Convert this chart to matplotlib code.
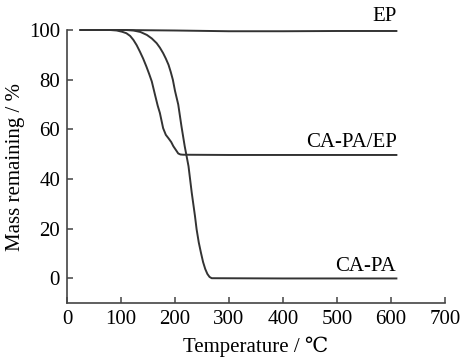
import numpy as np
import matplotlib
matplotlib.use("Agg")
import matplotlib.pyplot as plt

plt.rcParams['font.family'] = ['Liberation Serif', 'DejaVu Serif']
plt.rcParams['font.size'] = 15

# TG curves (temperature in C, mass remaining in %)
ep_t = [25, 100, 200, 300, 400, 500, 610]
ep_m = [100.0, 100.0, 99.8, 99.5, 99.5, 99.6, 99.6]

blend_t = [25, 80, 92, 102, 110, 117, 123, 129, 135, 141, 147, 152, 157, 163, 168, 172,
           178, 183, 188, 193, 197, 202, 206, 210, 215, 300, 400, 500, 610]
blend_m = [100, 100, 99.8, 99.3, 98.7, 97.6, 96, 93.9, 91.3, 88.5, 85.3, 82.4, 79.3, 73.9, 69.5, 66.6,
           60.5, 57.8, 56.4, 54.9, 53.2, 51.6, 50.3, 49.9, 49.8, 49.7, 49.7, 49.7, 49.7]

capa_t = [25, 110, 123, 136, 148, 157, 166, 172, 178, 183, 188, 192, 196, 200, 206, 212,
          218, 225, 231, 237, 240, 244, 248, 252, 256, 260, 264, 268, 400, 610]
capa_m = [100, 100, 99.8, 99.2, 98, 96.6, 94.7, 92.9, 90.7, 88.5, 86, 83.2, 80, 75.5, 70, 61.2,
          53.2, 45.2, 34.5, 25.1, 19.8, 14.5, 10.4, 6.6, 3.8, 1.8, 0.6, 0.1, 0, 0]

fig = plt.figure(figsize=(4.64, 3.61), dpi=100)
ax = fig.add_axes([67 / 464, 1 - 303.3 / 361, (445 - 67) / 464, (303.3 - 30) / 361])

for t, m in [(ep_t, ep_m), (blend_t, blend_m), (capa_t, capa_m)]:
    ax.plot(t, m, color='#333333', lw=1.4, clip_on=False, solid_joinstyle='round')

ax.text(611, 105.6, "EP", ha='right', va='center')
ax.text(611, 54.7, "CA-PA/EP", ha='right', va='center')
ax.text(609, 4.9, "CA-PA", ha='right', va='center')

ax.set_xlim(0, 700)
ax.set_ylim(-10, 100)
ax.set_xticks(np.arange(0, 701, 100))
ax.set_yticks(np.arange(0, 101, 20))
ax.spines['top'].set_visible(False)
ax.spines['right'].set_visible(False)
for s in ['left', 'bottom']:
    ax.spines[s].set_linewidth(1.2)
    ax.spines[s].set_color('#444444')
ax.tick_params(direction='in', length=4, width=1.1, color='#444444', pad=5)

ax.set_xlabel("Temperature / ℃", labelpad=5)
ax.set_ylabel("Mass remaining / %", labelpad=3)

fig.savefig("out.png", dpi=100)
